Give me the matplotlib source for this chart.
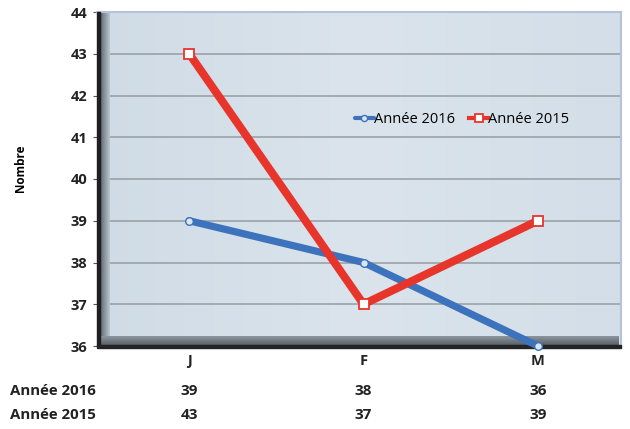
import matplotlib.pyplot as plt
import numpy as np
from matplotlib.patches import Rectangle
from matplotlib.colors import LinearSegmentedColormap

months = ['J', 'F', 'M']
annee_2016 = [39, 38, 36]
annee_2015 = [43, 37, 39]
y_ticks = [36, 37, 38, 39, 40, 41, 42, 43, 44]

blue = '#3d72bd'
red = '#e8352b'

plt.rcParams['font.family'] = ['Open Sans', 'DejaVu Sans']

fig = plt.figure(figsize=(6.3, 4.29), dpi=100)
fig.patch.set_facecolor('white')

# axes placed to match the plot area (px from the reference)
W, H = 630, 429
left, right, top, bottom = 97, 621, 12, 346
ax = fig.add_axes([left / W, 1 - bottom / H, (right - left) / W, (bottom - top) / H])

x = np.arange(len(months))
x0, x1 = -0.529, 2.477

# background gradient of the plot area
grad = np.linspace(0, 1, 256).reshape(1, -1)
ax.imshow(grad, extent=[x0, x1, 36, 44], aspect='auto', zorder=0,
          cmap=LinearSegmentedColormap.from_list(
              'bg', ['#cfdbe6', '#dbe4ec', '#d3dee8']))

for v in y_ticks[1:-1]:
    ax.axhline(v, color='#969ca1', lw=1.1, zorder=1)

# 3D-ish left wall and floor
wall = np.linspace(0, 1, 64).reshape(1, -1)
ax.imshow(wall, extent=[x0, -0.455, 36, 44], aspect='auto', zorder=2,
          cmap=LinearSegmentedColormap.from_list(
              'wall', ['#3f4449', '#7e8790', '#bcc6cf']))
floor = np.linspace(0, 1, 32).reshape(-1, 1)
ax.imshow(floor, extent=[x0, 2.46, 36, 36.22], aspect='auto', zorder=2,
          cmap=LinearSegmentedColormap.from_list(
              'floor', ['#555b61', '#8d969e']), origin='lower')
ax.add_patch(Rectangle((0, 0), 0.006, 1, transform=ax.transAxes,
                       color='#1e1f21', zorder=3, clip_on=False))
ax.add_patch(Rectangle((0, -0.006), 1.0, 0.008, transform=ax.transAxes,
                       color='#222426', zorder=3, clip_on=False))
ax.set_xlim(x0, x1)
ax.set_ylim(36, 44)

ax.plot(x, annee_2016, color=blue, lw=5.2, marker='o', ms=5.5,
        mfc='#dbe6f2', mec=blue, mew=1.0, solid_capstyle='round',
        solid_joinstyle='round', label='Année 2016', zorder=5, clip_on=False)
ax.plot(x, annee_2015, color=red, lw=5.8, marker='s', ms=7.5,
        mfc='white', mec=red, mew=1.3, solid_joinstyle='miter',
        label='Année 2015', zorder=6, clip_on=False)

for s in ['top', 'right']:
    ax.spines[s].set_color('#b4c2dc')
    ax.spines[s].set_linewidth(1.5)
ax.spines['left'].set_visible(False)
ax.spines['bottom'].set_visible(False)

ax.set_yticks(y_ticks)
ax.set_yticklabels([str(v) for v in y_ticks], fontsize=10.5, fontweight='bold',
                   color='#222222')
ax.tick_params(axis='y', length=3, color='#555555', pad=4)
ax.set_xticks(x)
ax.set_xticklabels(months, fontsize=10.5, fontweight='bold', color='#222222')
ax.tick_params(axis='x', length=0, pad=6)

ax.set_ylabel('Nombre', fontsize=8.5, fontweight='bold')
ax.yaxis.set_label_coords(-0.134, 0.533)

leg = ax.legend(loc='center', bbox_to_anchor=(0.697, 0.677), ncol=2,
                frameon=False, fontsize=10.5, handlelength=1.3,
                handletextpad=0.0, columnspacing=1.0, markerscale=0.8)
for h in leg.legend_handles:
    h.set_linewidth(3)

# data table under the chart
rows = [('Année 2016', annee_2016, 391), ('Année 2015', annee_2015, 415)]
for label, vals, ypx in rows:
    fig.text(10 / W, 1 - ypx / H, label, fontsize=10.8, fontweight='bold',
             color='#222222', va='center', ha='left')
    for xi, v in zip(x, vals):
        xd = ax.transData.transform((xi, 40))[0]
        fig.text(xd / fig.bbox.width, 1 - ypx / H, str(v), fontsize=11,
                 fontweight='bold', color='#222222', va='center', ha='center')

fig.savefig('out.png', dpi=100)
